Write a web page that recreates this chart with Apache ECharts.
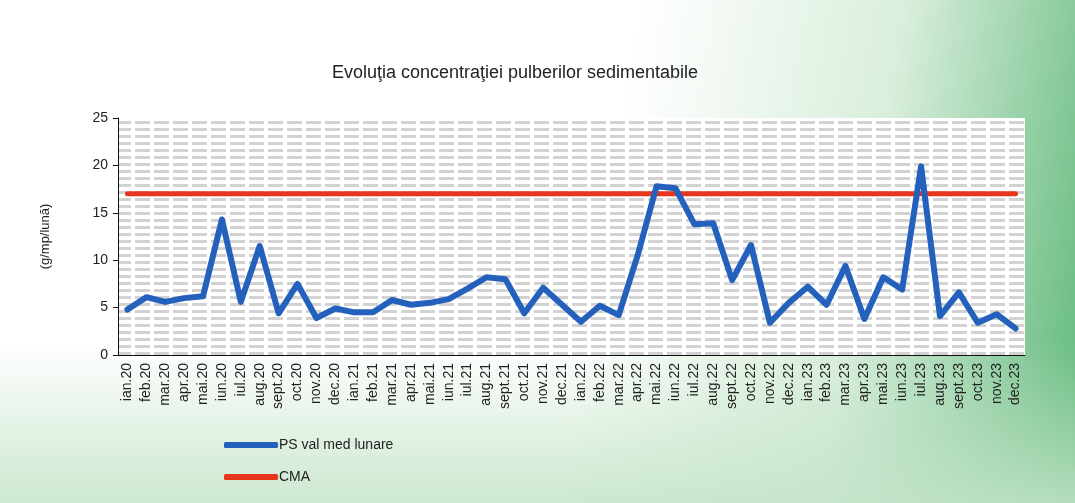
<!DOCTYPE html>
<html>
<head>
<meta charset="utf-8">
<script src="https://cdn.jsdelivr.net/npm/echarts@6/dist/echarts.min.js"></script>
<style>
  html, body { margin: 0; padding: 0; }
  #myChart {
    width: 1075px;
    height: 503px;
    background:
      linear-gradient(to bottom, rgba(255,255,255,0) 0%, rgba(255,255,255,0) 68%, rgba(196,228,200,0.85) 100%),
      linear-gradient(100deg, #ffffff 0%, #ffffff 55%, #d9eedc 78%, #5fb87a 100%);
  }
</style>
</head>
<body>
<div id="myChart"></div>
<script>
// luni (ian.20 - dec.23)
const luni = [
  'ian.20', 'feb.20', 'mar.20', 'apr.20', 'mai.20', 'iun.20', 'iul.20', 'aug.20', 'sept.20', 'oct.20', 'nov.20', 'dec.20',
  'ian.21', 'feb.21', 'mar.21', 'apr.21', 'mai.21', 'iun.21', 'iul.21', 'aug.21', 'sept.21', 'oct.21', 'nov.21', 'dec.21',
  'ian.22', 'feb.22', 'mar.22', 'apr.22', 'mai.22', 'iun.22', 'iul.22', 'aug.22', 'sept.22', 'oct.22', 'nov.22', 'dec.22',
  'ian.23', 'feb.23', 'mar.23', 'apr.23', 'mai.23', 'iun.23', 'iul.23', 'aug.23', 'sept.23', 'oct.23', 'nov.23', 'dec.23',
];
// PS val med lunare (g/mp/luna)
const psValMed = [
  4.8, 6.1, 5.6, 6.0, 6.2, 14.3, 5.6, 11.5, 4.4, 7.5, 3.9, 4.9,
  4.5, 4.5, 5.8, 5.3, 5.5, 5.9, 7.0, 8.2, 8.0, 4.4, 7.1, 5.3,
  3.5, 5.2, 4.2, 10.5, 17.8, 17.6, 13.8, 13.9, 7.9, 11.6, 3.4, 5.5,
  7.2, 5.3, 9.4, 3.8, 8.2, 6.9, 19.9, 4.1, 6.6, 3.4, 4.3, 2.8,
];
// CMA
const cma = luni.map(() => 17);
const yTicks = [0, 5, 10, 15, 20, 25];

// fundal cu "text" gri ca in scan
function makePattern() {
  const c = document.createElement('canvas');
  c.width = 19;
  c.height = 7;
  const ctx = c.getContext('2d');
  ctx.fillStyle = '#ffffff';
  ctx.fillRect(0, 0, 19, 7);
  ctx.fillStyle = '#d2d2d2';
  ctx.fillRect(2, 2, 15, 3);
  return c;
}

const myChart = echarts.init(document.getElementById('myChart'));
myChart.setOption({
  animation: false,
  title: {
    text: 'Evoluţia concentraţiei pulberilor sedimentabile',
    left: 510,
    top: 59,
    textAlign: 'center',
    textStyle: {
      fontFamily: 'Liberation Sans',
      fontSize: 18,
      fontWeight: 'normal',
      color: '#222',
    },
  },
  legend: {
    orient: 'vertical',
    left: 219,
    top: 433,
    icon: 'roundRect',
    itemWidth: 54,
    itemHeight: 6,
    itemGap: 18,
    textStyle: {
      fontFamily: 'Liberation Sans',
      fontSize: 14,
      color: '#222',
      padding: [0, 0, 0, -4],
    },
    data: ['PS val med lunare', 'CMA'],
  },
  grid: {
    left: 118,
    right: 50,
    top: 118,
    bottom: 148,
    show: true,
    borderWidth: 0,
    backgroundColor: { image: makePattern(), repeat: 'repeat' },
  },
  xAxis: {
    type: 'category',
    data: luni,
    boundaryGap: true,
    axisLine: { lineStyle: { color: '#111', width: 1 } },
    axisTick: { lineStyle: { color: '#111' }, length: 5 },
    axisLabel: {
      rotate: 90,
      interval: 0,
      fontFamily: 'Liberation Sans',
      fontSize: 14,
      color: '#222',
      margin: 8,
    },
  },
  yAxis: {
    type: 'value',
    min: yTicks[0],
    max: yTicks[yTicks.length - 1],
    interval: 5,
    name: '(g/mp/lună)',
    nameLocation: 'middle',
    nameRotate: 90,
    nameGap: 66,
    nameTextStyle: {
      fontFamily: 'Liberation Sans',
      fontSize: 13,
      color: '#222',
    },
    axisLine: { show: true, lineStyle: { color: '#111', width: 1 } },
    axisTick: { show: true, lineStyle: { color: '#111' }, length: 5 },
    axisLabel: {
      fontFamily: 'Liberation Sans',
      fontSize: 14,
      color: '#222',
      margin: 10,
    },
    splitLine: { show: false },
  },
  series: [
    {
      name: 'PS val med lunare',
      type: 'line',
      data: psValMed,
      symbol: 'none',
      showSymbol: false,
      z: 3,
      lineStyle: { color: '#2461bd', width: 6, join: 'round', cap: 'round' },
      itemStyle: { color: '#2461bd' },
    },
    {
      name: 'CMA',
      type: 'line',
      data: cma,
      symbol: 'none',
      showSymbol: false,
      z: 2,
      lineStyle: { color: '#e8361e', width: 5, cap: 'round' },
      itemStyle: { color: '#e8361e' },
    },
  ],
});
</script>
</body>
</html>
